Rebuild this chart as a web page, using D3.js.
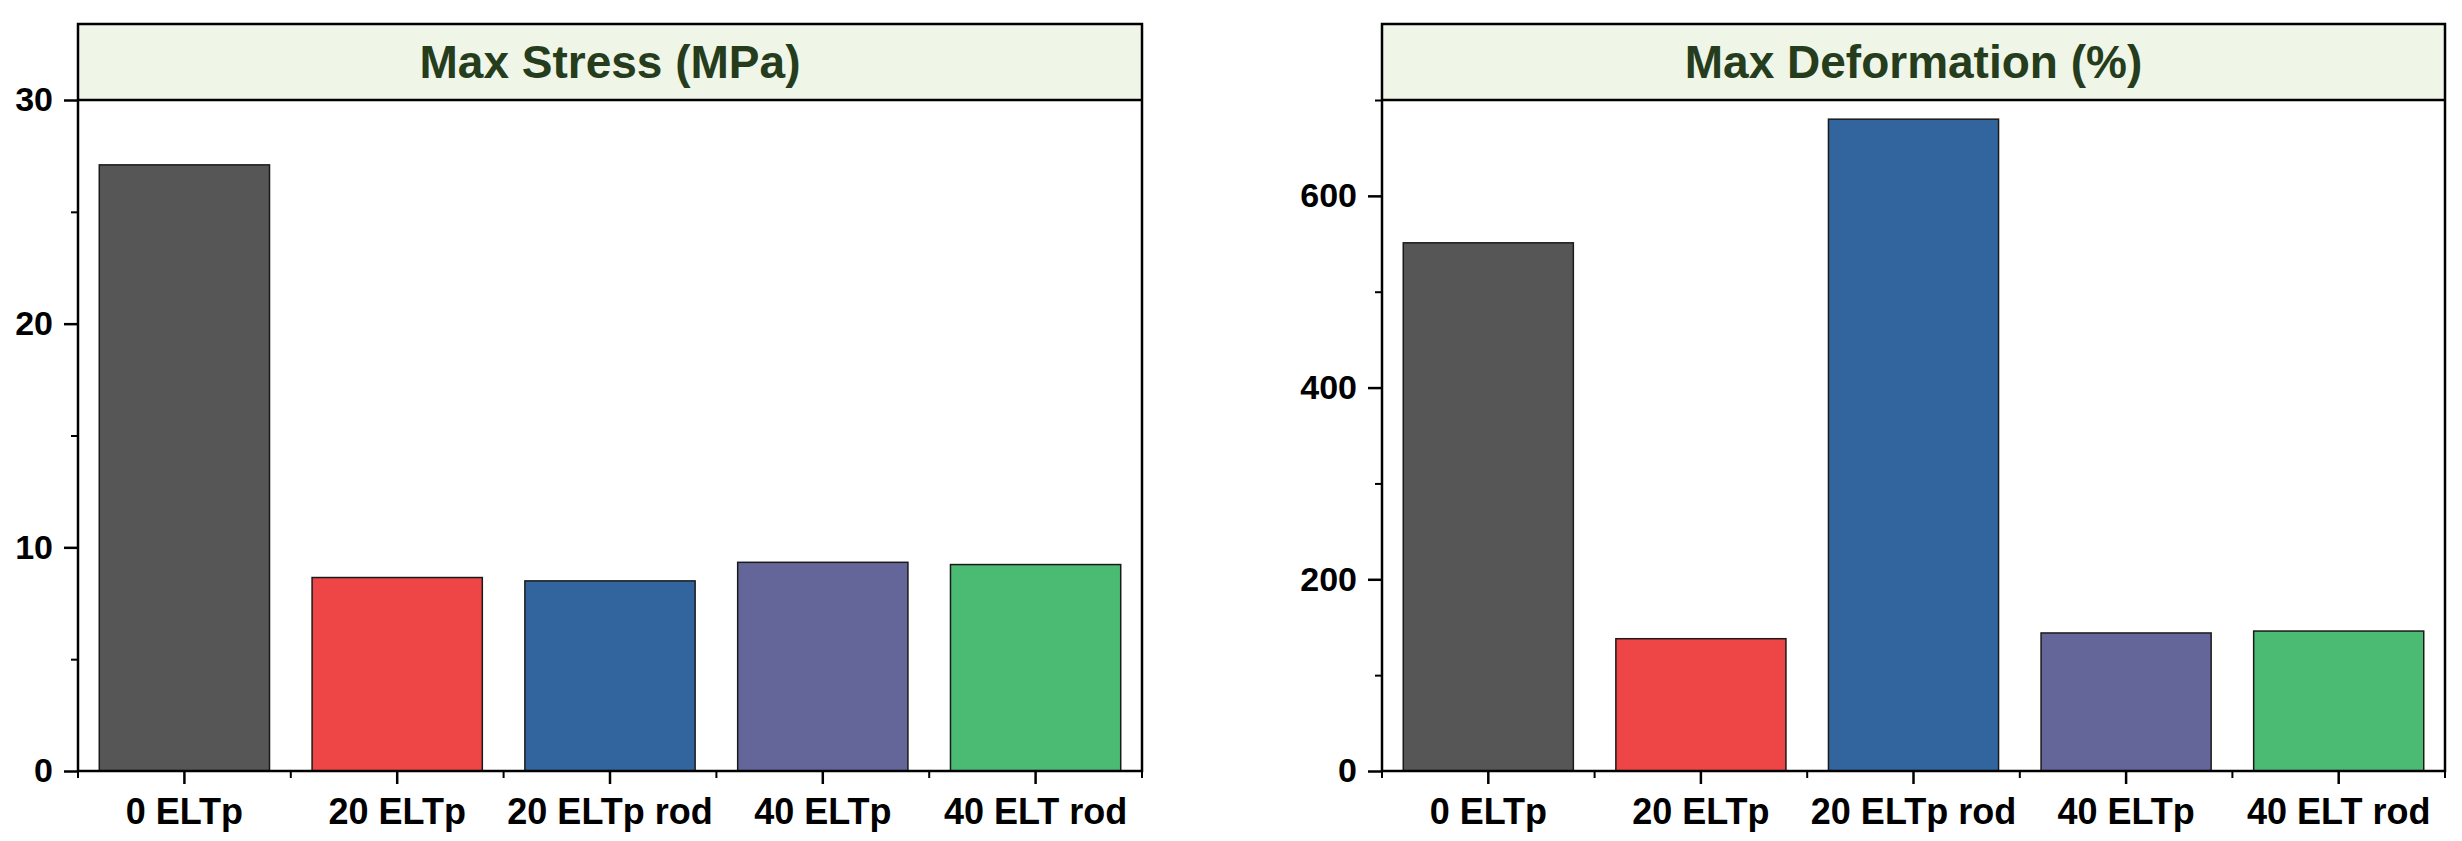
<!DOCTYPE html>
<html>
<head>
<meta charset="utf-8">
<script src="https://cdn.jsdelivr.net/npm/d3@7"></script>
<style>
  html, body { margin: 0; padding: 0; background: #ffffff; }
  svg { display: block; }
  text { font-family: "Liberation Sans", Arial, sans-serif; font-weight: bold; }
</style>
</head>
<body>
<svg id="chart" width="2462" height="841"></svg>
<script>
// ---- Data ----
const categories = ["0 ELTp", "20 ELTp", "20 ELTp rod", "40 ELTp", "40 ELT rod"];
const stressValues = [27.1, 8.65, 8.5, 9.33, 9.23];
const deformationValues = [551, 138, 680, 144, 146];
const barColors = ["#555655", "#ee4646", "#32659d", "#64669a", "#4bbb73"];
const stressTicks = [0, 10, 20, 30];
const stressMinorTicks = [5, 15, 25];
const deformationTicks = [0, 200, 400, 600];
const deformationMinorTicks = [100, 300, 500, 700];
const panelTitles = ["Max Stress (MPa)", "Max Deformation (%)"];

// ---- Layout ----
const svg = d3.select("#chart");
const frameTop = 24, bandBottom = 100, axisY = 771;

const panels = [
  { x0: 78, x1: 1142, title: panelTitles[0], values: stressValues, domain: [0, 30],
    ticks: stressTicks, minor: stressMinorTicks },
  { x0: 1382, x1: 2445, title: panelTitles[1], values: deformationValues, domain: [0, 700],
    ticks: deformationTicks, minor: deformationMinorTicks }
];

panels.forEach(p => {
  const g = svg.append("g");
  const x = d3.scaleBand().domain(categories).range([p.x0, p.x1])
    .paddingInner(0.2).paddingOuter(0.1);
  const y = d3.scaleLinear().domain(p.domain).range([axisY, bandBottom]);

  // title band
  g.append("rect").attr("x", p.x0).attr("y", frameTop)
    .attr("width", p.x1 - p.x0).attr("height", bandBottom - frameTop)
    .attr("fill", "#eff5e7");
  g.append("text").attr("x", (p.x0 + p.x1) / 2).attr("y", 78)
    .attr("text-anchor", "middle").attr("font-size", 46)
    .attr("fill", "#253d1c").text(p.title);

  // bars
  g.selectAll("rect.bar").data(categories).enter().append("rect")
    .attr("class", "bar")
    .attr("x", d => x(d))
    .attr("width", x.bandwidth())
    .attr("y", (d, i) => y(p.values[i]))
    .attr("height", (d, i) => y(0) - y(p.values[i]))
    .attr("fill", (d, i) => barColors[i])
    .attr("stroke", "#1a1a1a").attr("stroke-width", 1.5);

  // y axis major
  const ya = g.append("g").attr("transform", `translate(${p.x0},0)`)
    .call(d3.axisLeft(y).tickValues(p.ticks).tickSize(14).tickPadding(11));
  ya.select(".domain").remove();
  ya.selectAll("line").attr("stroke", "#000").attr("stroke-width", 2.5);
  ya.selectAll("text").attr("font-size", 34).attr("fill", "#000")
    .attr("font-family", "'Liberation Sans', Arial, sans-serif").attr("font-weight", "bold");

  // y axis minor
  const ym = g.append("g").attr("transform", `translate(${p.x0},0)`)
    .call(d3.axisLeft(y).tickValues(p.minor).tickSize(7).tickFormat(""));
  ym.select(".domain").remove();
  ym.selectAll("line").attr("stroke", "#000").attr("stroke-width", 2);

  // x axis major
  const xa = g.append("g").attr("transform", `translate(0,${axisY})`)
    .call(d3.axisBottom(x).tickSize(13).tickSizeOuter(0));
  xa.select(".domain").remove();
  xa.selectAll("line").attr("stroke", "#000").attr("stroke-width", 2.5);
  xa.selectAll("text").attr("font-size", 36).attr("fill", "#000")
    .attr("y", 53).attr("dy", 0)
    .attr("font-family", "'Liberation Sans', Arial, sans-serif").attr("font-weight", "bold");

  // x axis minor ticks at category boundaries
  const edges = d3.range(categories.length + 1).map(i => p.x0 + i * x.step());
  g.selectAll("line.xminor").data(edges).enter().append("line")
    .attr("class", "xminor")
    .attr("x1", d => d).attr("x2", d => d)
    .attr("y1", axisY).attr("y2", axisY + 7)
    .attr("stroke", "#000").attr("stroke-width", 2);

  // frame
  g.append("rect").attr("x", p.x0).attr("y", frameTop)
    .attr("width", p.x1 - p.x0).attr("height", axisY - frameTop)
    .attr("fill", "none").attr("stroke", "#000").attr("stroke-width", 2.5);
  g.append("line").attr("x1", p.x0).attr("x2", p.x1)
    .attr("y1", bandBottom).attr("y2", bandBottom)
    .attr("stroke", "#000").attr("stroke-width", 2.5);
});
</script>
</body>
</html>
